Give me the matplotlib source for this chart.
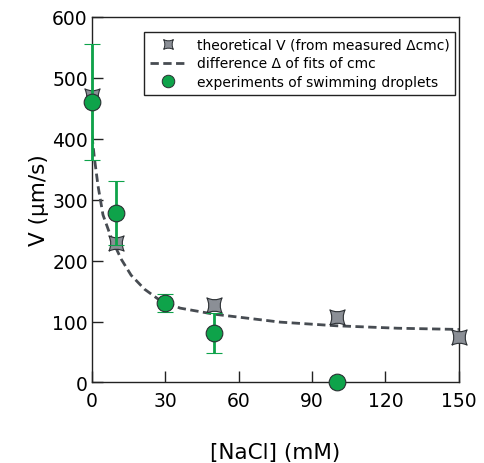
import matplotlib
matplotlib.use("Agg")
import matplotlib.pyplot as plt
from matplotlib.path import Path
from matplotlib.lines import Line2D

# Theoretical velocity computed from measured delta-cmc
theory_nacl = [0, 10, 50, 100, 150]
theory_v = [470, 228, 127, 107, 75]

# Fitted curve (difference of cmc fits)
fit_nacl = [0, 1, 2.5, 4.5, 8, 12, 16, 21.5, 27, 36, 50, 77, 100, 125, 150]
fit_v = [405, 368, 322, 275, 236, 202, 176, 153, 137, 122, 112, 99, 93, 89, 87]

# Measured swimming droplet velocities
exp_nacl = [0, 10, 30, 50, 100]
exp_v = [460, 278, 130, 81, 0]
exp_err = [95, 52, 15, 33, 0]

xticks = [0, 30, 60, 90, 120, 150]
yticks = [0, 100, 200, 300, 400, 500, 600]

label_theory = 'theoretical V (from measured \u0394cmc)'
label_fit = 'difference \u0394 of fits of cmc'
label_exp = 'experiments of swimming droplets'

# concave four-pointed star marker
k = 0.5
verts = [(-1, -1), (0, -k), (1, -1), (k, 0), (1, 1), (0, k), (-1, 1), (-k, 0), (-1, -1)]
codes = [Path.MOVETO, Path.CURVE3, Path.CURVE3, Path.CURVE3, Path.CURVE3,
         Path.CURVE3, Path.CURVE3, Path.CURVE3, Path.CURVE3]
star = Path(verts, codes)

plt.rcParams['font.family'] = ['DejaVu Sans']

fig = plt.figure(figsize=(4.84, 4.64), dpi=100)
ax = fig.add_axes([0.190, 0.1735, 0.758, 0.7885])

green = '#0ea34a'
grey = '#8b8f96'
edge = '#2b2f33'

ax.plot(fit_nacl, fit_v, linestyle=(0, (3, 1.6)), color='#474c52', lw=2.0,
        zorder=2)
ax.plot(theory_nacl, theory_v, linestyle='none', marker=star, ms=11,
        mfc=grey, mec=edge, mew=0.8, zorder=3, clip_on=False)
ax.errorbar(exp_nacl, exp_v, yerr=exp_err, fmt='o', ms=12, mfc=green,
            mec=edge, mew=0.8, ecolor=green, elinewidth=2, capsize=6,
            capthick=2, zorder=4, clip_on=False)

ax.set_xlim(0, 150)
ax.set_ylim(0, 600)
ax.set_xticks(xticks)
ax.set_yticks(yticks)
ax.tick_params(direction='in', length=8, width=1, labelsize=13.5,
               color='#222222')
ax.tick_params(axis='x', pad=6)
ax.tick_params(axis='y', pad=3)
for s in ax.spines.values():
    s.set_linewidth(1)
    s.set_color('#222222')

ax.set_xlabel('[NaCl] (mM)', fontsize=15.5, labelpad=23)
ax.set_ylabel('V (\u03bcm/s)', fontsize=15.5, labelpad=2)

handles = [
    Line2D([], [], linestyle='none', marker=star, ms=7, mfc=grey, mec=edge, mew=0.7),
    Line2D([], [], linestyle=(0, (3, 1.6)), color='#474c52', lw=2.0),
    Line2D([], [], linestyle='none', marker='o', ms=9, mfc=green, mec=edge, mew=0.7),
]
leg = ax.legend(handles, [label_theory, label_fit, label_exp],
                loc='upper right', bbox_to_anchor=(0.99, 0.958),
                borderaxespad=0, fontsize=10, frameon=True, fancybox=False,
                framealpha=1, edgecolor='#222222', handlelength=2.7,
                handletextpad=0.7, borderpad=0.4, labelspacing=0.35)
leg.get_frame().set_linewidth(1)

fig.savefig('out.png', dpi=100)
